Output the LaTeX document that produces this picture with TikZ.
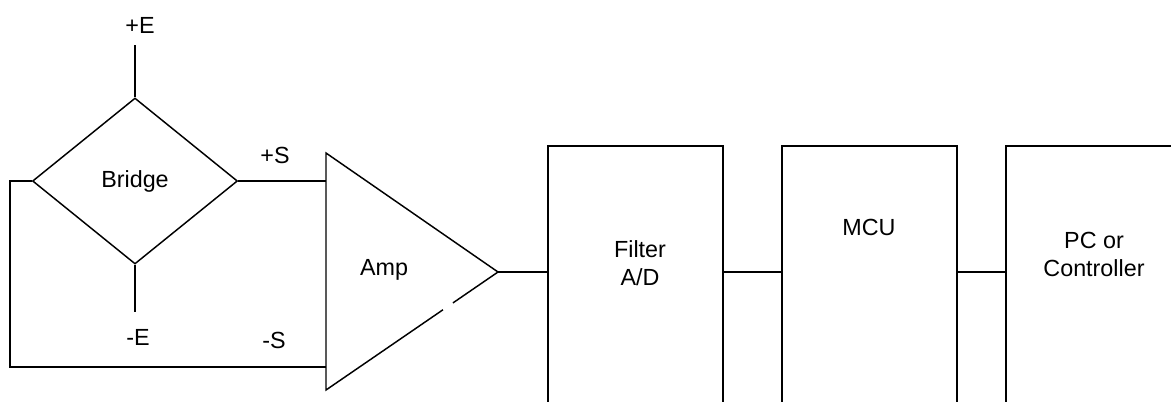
\documentclass[tikz,border=0pt]{standalone}
\usepackage{fontspec}
\setmainfont{Liberation Sans}
\usetikzlibrary{shapes.geometric,calc}
\begin{document}
\begin{tikzpicture}[x=0.75pt,y=-0.75pt,
  wire/.style={line width=1.1pt},
  lbl/.style={font=\fontsize{17.5pt}{20.3pt}\selectfont,inner sep=0pt,anchor=base,align=center},
  blockbox/.style={draw,line width=1.1pt,rectangle,minimum width=131.25pt,minimum height=205.5pt,inner sep=0pt},
  bridgeshape/.style={draw,line width=1.1pt,diamond,minimum width=153.75pt,minimum height=124.5pt,inner sep=0pt,font=\fontsize{17.5pt}{21pt}\selectfont}]
\useasboundingbox (0,0) rectangle (1171,401);
\clip (0,0) rectangle (1171,401);
% bridge
\node[bridgeshape] (bridge) at (135,181) {Bridge};
\coordinate (eplus) at (135,45);
\coordinate (eminus) at (135,312);
\draw[wire] (eplus) -- (bridge.north);
\draw[wire] (bridge.south) -- (eminus);
\node[lbl] (lEp) at (140,33) {+E};
\node[lbl] (lEm) at (138,345) {-E};
% amplifier
\coordinate (ampT) at (326,153);
\coordinate (ampB) at (326,390);
\coordinate (ampO) at (498,272);
\coordinate (ampM) at (326,367);
\draw[wire,line join=miter] ($(ampB)!0.68!(ampO)$) -- (ampB) -- (ampT) -- (ampO) -- ($(ampB)!0.738!(ampO)$);
\node[lbl] (lAmp) at (384,275) {Amp};
% bridge to amp
\draw[wire] (bridge.east) -- (bridge.east -| ampT);
\draw[wire] (bridge.west) -- ++(-22,0) |- (ampM);
\node[lbl] (lSp) at (275,163) {+S};
\node[lbl] (lSm) at (274,348) {-S};
% blocks
\node[blockbox] (filter) at (635.5,283) {};
\node[blockbox] (mcu) at (869.5,283) {};
\node[blockbox] (pc) at (1093.5,283) {};
\node[lbl] (lFilter) at (640,285) {Filter\\A/D};
\node[lbl] (lMCU) at (869,235) {MCU};
\node[lbl] (lPC) at (1094,276) {PC or\\Controller};
% connectors
\draw[wire] (ampO) -- (ampO -| filter.west);
\draw[wire] (filter.east |- ampO) -- (mcu.west |- ampO);
\draw[wire] (mcu.east |- ampO) -- (pc.west |- ampO);
\end{tikzpicture}
\end{document}
